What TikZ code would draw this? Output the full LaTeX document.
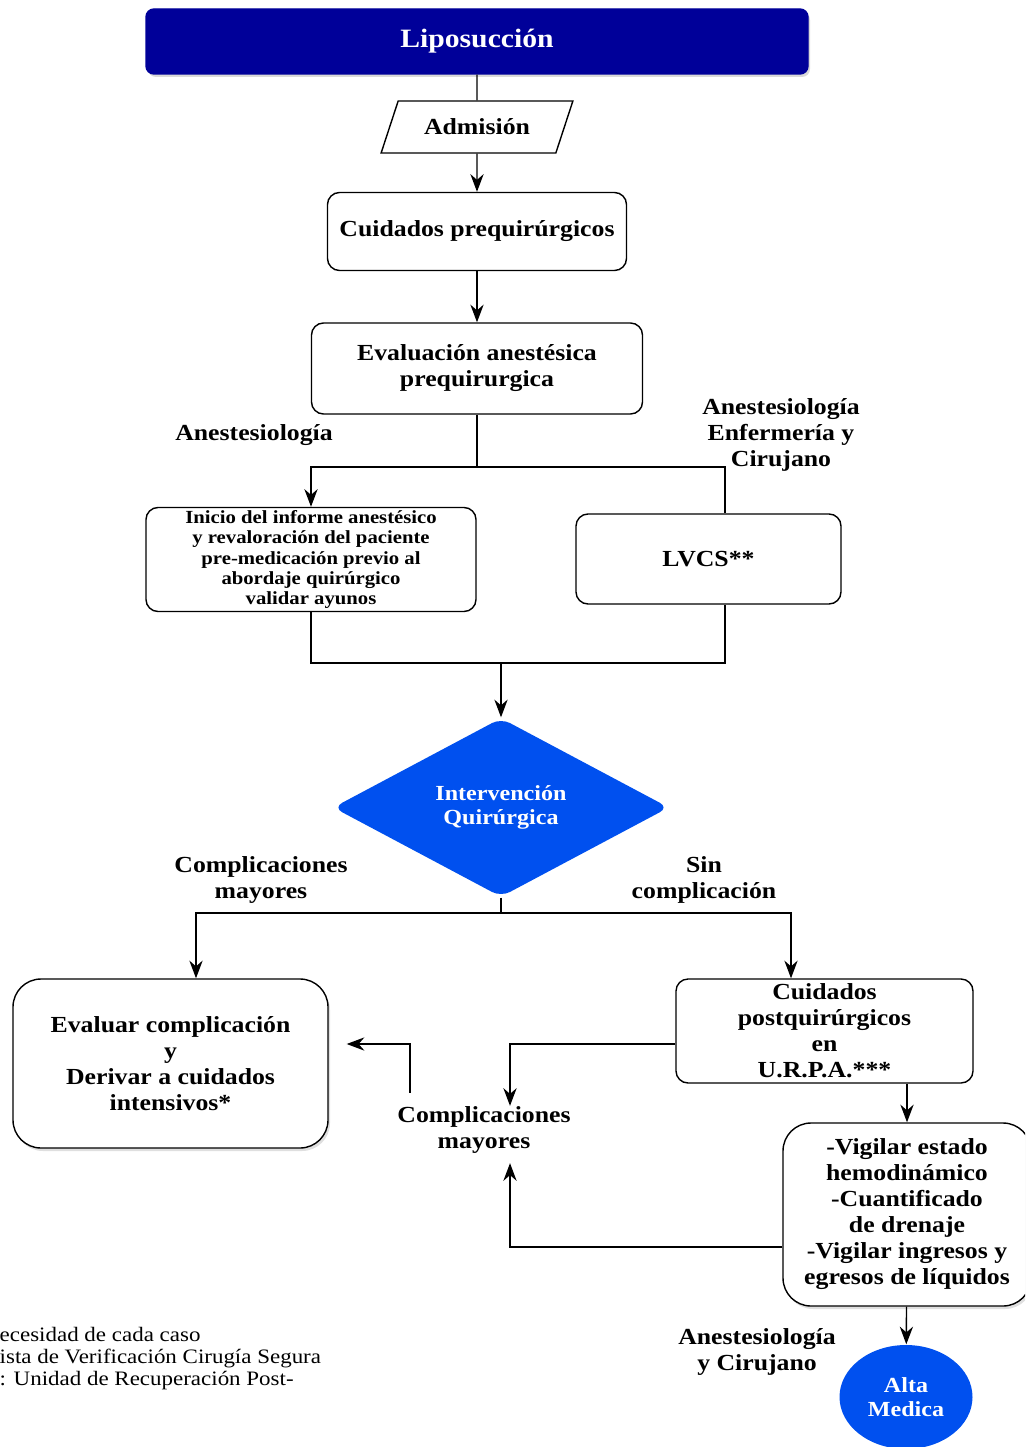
\documentclass[tikz,border=0pt]{standalone}
\usepackage{fontspec}
\setmainfont{Liberation Serif}[FakeStretch=1.12]
\usetikzlibrary{arrows.meta, positioning, shapes.geometric, shadows}

\definecolor{lipoblue}{RGB}{0,0,153}
\definecolor{procblue}{RGB}{0,80,239}

\begin{document}
\begin{tikzpicture}[%
    x=1pt, y=-1pt,
    arr/.style={-{Stealth[scale=1.9]}},
    on grid,
    line width=1.4pt,
    box/.style={draw, rounded corners=12pt, fill=white, align=center, inner sep=2pt,
      font=\bfseries\fontsize{23}{26}\selectfont},
    bigbox/.style={box, rounded corners=28pt,
      drop shadow={opacity=0.25, shadow xshift=2pt, shadow yshift=-3pt}},
    io/.style={draw, trapezium, trapezium left angle=62, trapezium right angle=118,
      trapezium stretches=true, minimum width=192pt, minimum height=52pt, fill=white,
      font=\bfseries\fontsize{23}{26}\selectfont},
    lbl/.style={align=center, inner sep=0pt, font=\bfseries\fontsize{23}{26}\selectfont},
    bluefill/.style={fill=procblue, text=white, align=center, inner sep=0pt,
      font=\bfseries\fontsize{21.5}{24}\selectfont}
  ]
  \useasboundingbox (0,0) rectangle (1025,1447);
  \clip (0,0) rectangle (1025,1447);

  % central column
  \node[box, fill=lipoblue, draw=lipoblue, text=white, rounded corners=8pt,
    minimum width=662pt, minimum height=65pt,
    drop shadow={opacity=0.3, shadow xshift=2pt, shadow yshift=-3pt},
    font=\bfseries\fontsize{26.5}{28}\selectfont] (lipo) at (477,41.5) {Liposucción};
  \node[io] (admis) [below=85.5pt of lipo] {Admisión};
  \node[box, minimum width=299pt, minimum height=78pt] (cuidpre) [below=104.5pt of admis] {Cuidados prequirúrgicos};
  \node[box, minimum width=331pt, minimum height=91pt] (evalpre) [below=137pt of cuidpre] {Evaluación anestésica\\prequirurgica};

  \node[box, minimum width=330pt, minimum height=104pt, inner sep=1pt,
    font=\bfseries\fontsize{18.5}{20.2}\selectfont] (inicio) at (311,559.5)
    {Inicio del informe anestésico\\y revaloración del paciente\\pre-medicación previo al\\abordaje quirúrgico\\validar ayunos};
  \node[box, minimum width=265pt, minimum height=90pt] (lvcs) at (708.5,559) {LVCS**};

  \node[diamond, bluefill, rounded corners=10pt, minimum width=336pt, minimum height=179pt] (interv) at (501,807.5) {Intervención\\Quirúrgica};

  \node[bigbox, minimum width=315pt, minimum height=169pt] (evalcomp) at (170.5,1063.5)
    {Evaluar complicación\\y\\Derivar a cuidados\\intensivos*};
  \node[box, minimum width=297pt, minimum height=104pt, inner sep=1pt] (cuidpost) at (824.5,1031)
    {Cuidados\\postquirúrgicos\\en\\U.R.P.A.***};
  \node[bigbox, minimum width=248pt, minimum height=183pt] (vigil) at (907,1214.5)
    {-Vigilar estado\\hemodinámico\\-Cuantificado\\de drenaje\\-Vigilar ingresos y\\egresos de líquidos};
  \node[ellipse, bluefill, minimum width=133pt, minimum height=104pt] (alta) at (906,1397) {Alta\\Medica};

  % labels
  \node[lbl] (anes1) at (254,435) {Anestesiología};
  \node[lbl] (anes2) at (781,435) {Anestesiología\\Enfermería y\\Cirujano};
  \node[lbl] (compl1) at (261,880) {Complicaciones\\mayores};
  \node[lbl] (sincomp) at (704,880) {Sin\\complicación};
  \node[lbl] (compl2) at (484,1130) {Complicaciones\\mayores};
  \node[lbl] (anes3) at (757,1352) {Anestesiología\\y Cirujano};
  \node[anchor=west, align=left, inner sep=0pt, font=\fontsize{20.5}{22}\selectfont] (notas) at (-1,1359)
    {ecesidad de cada caso\\ista de Verificación Cirugía Segura\\: Unidad de Recuperación Post-};

  % connectors
  \coordinate (splitA) at (477,467);
  \coordinate (joinB) at (501,663);
  \coordinate (splitC) at (501,913);

  \draw (lipo) -- (admis);
  \draw[arr] (admis) -- (cuidpre);
  \draw[arr] (cuidpre) -- (evalpre);
  \draw (evalpre) -- (splitA);
  \draw[arr] (splitA) -| (inicio);
  \draw (splitA) -| ([xshift=16.5pt]lvcs.north);
  \draw (inicio) |- (joinB) -| ([xshift=16.5pt]lvcs.south);
  \draw[arr] (joinB) -- (interv);
  \draw (interv) -- (splitC);
  \draw[arr] (splitC) -| ([xshift=25.5pt]evalcomp.north);
  \draw[arr] (splitC) -| ([xshift=-33.5pt]cuidpost.north);
  \draw[arr] ([yshift=-13pt]cuidpost.west) -| ([xshift=26pt]compl2.north);
  \draw[arr] ([xshift=-74pt, yshift=13pt]compl2.north) |- ([xshift=18pt, yshift=19.5pt]evalcomp.east);
  \draw[arr] (cuidpost.south -| vigil.north) -- (vigil.north);
  \draw[arr] ([yshift=-32.5pt]vigil.west) -| ([xshift=26pt, yshift=-9pt]compl2.south);
  \draw[arr] (vigil) -- (alta);
\end{tikzpicture}
\end{document}
